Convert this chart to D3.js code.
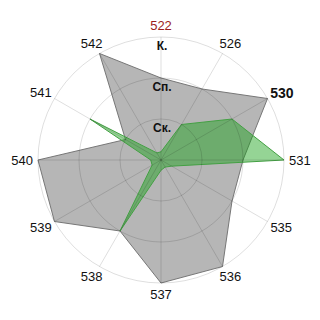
<!DOCTYPE html>
<html><head><meta charset="utf-8">
<script src="https://cdn.jsdelivr.net/npm/d3@7"></script>
<style>html,body{margin:0;padding:0;background:#fff;}</style>
</head><body>
<svg id="c" width="320" height="320"></svg>
<script>
const axes = ["522","526","530","531","535","536","537","538","539","540","541","542"];
const grayValues = [2,2,3,2,2,3,3,2,3,3,1,3];
const greenValues = [0.2,1,2,3,0.3,0.2,0.25,2,0.25,0.25,2,0.2];
const levels = [1,2,3];
const levelLabels = ["Ск.","Сп.","К."];

const cx = 161, cy = 160, R = 123;
const svg = d3.select("#c");
const g = svg.append("g").attr("transform", `translate(${cx},${cy})`);
const r = d3.scaleLinear().domain([0,3]).range([0,R]);
const ang = d3.scalePoint().domain(axes).range([0, 2*Math.PI*(axes.length-1)/axes.length]);

const line = d3.lineRadial().angle((d,i)=>ang(axes[i])).radius(d=>r(d)).curve(d3.curveLinearClosed);

g.append("path").datum(grayValues).attr("d", line)
  .attr("fill","#b6b6b6").attr("stroke","#777").attr("stroke-width",1);
g.append("path").datum(greenValues).attr("d", line)
  .attr("fill","rgba(20,160,20,0.45)").attr("stroke","#44a044").attr("stroke-width",1);

// grid on top
g.selectAll("circle.ring").data(levels).join("circle")
  .attr("r", d=>r(d)).attr("fill","none").attr("stroke","rgba(0,0,0,0.13)").attr("stroke-width",1);
g.selectAll("line.spoke").data(axes).join("line")
  .attr("x1",0).attr("y1",0)
  .attr("x2", d=>R*Math.sin(ang(d))).attr("y2", d=>-R*Math.cos(ang(d)))
  .attr("stroke","rgba(0,0,0,0.13)").attr("stroke-width",1);

// level labels
g.selectAll("text.lvl").data(levels).join("text")
  .attr("x",1).attr("y", d=>-r(d)+13)
  .attr("text-anchor","middle")
  .attr("font-family","'Liberation Sans', Arial, sans-serif")
  .attr("font-size",12).attr("font-weight","bold").attr("fill","#111")
  .text((d,i)=>levelLabels[i]);

// axis labels
const lr = 128;
axes.forEach(a=>{
  const t = ang(a), s = Math.sin(t), c = Math.cos(t);
  const bold = a==="530";
  const fs = bold ? 14 : 13;
  const w = a.length*0.556*fs, h = fs;
  const x = lr*s + s*w/2;
  const y = -lr*c - c*h/2;
  g.append("text").attr("x",x).attr("y",y).attr("dy","0.36em")
    .attr("text-anchor","middle")
    .attr("font-family","'Liberation Sans', Arial, sans-serif")
    .attr("font-size",fs).attr("font-weight", bold?"bold":"normal")
    .attr("fill", a==="522" ? "#9b1c1c" : "#111")
    .text(a);
});
</script>
</body></html>
